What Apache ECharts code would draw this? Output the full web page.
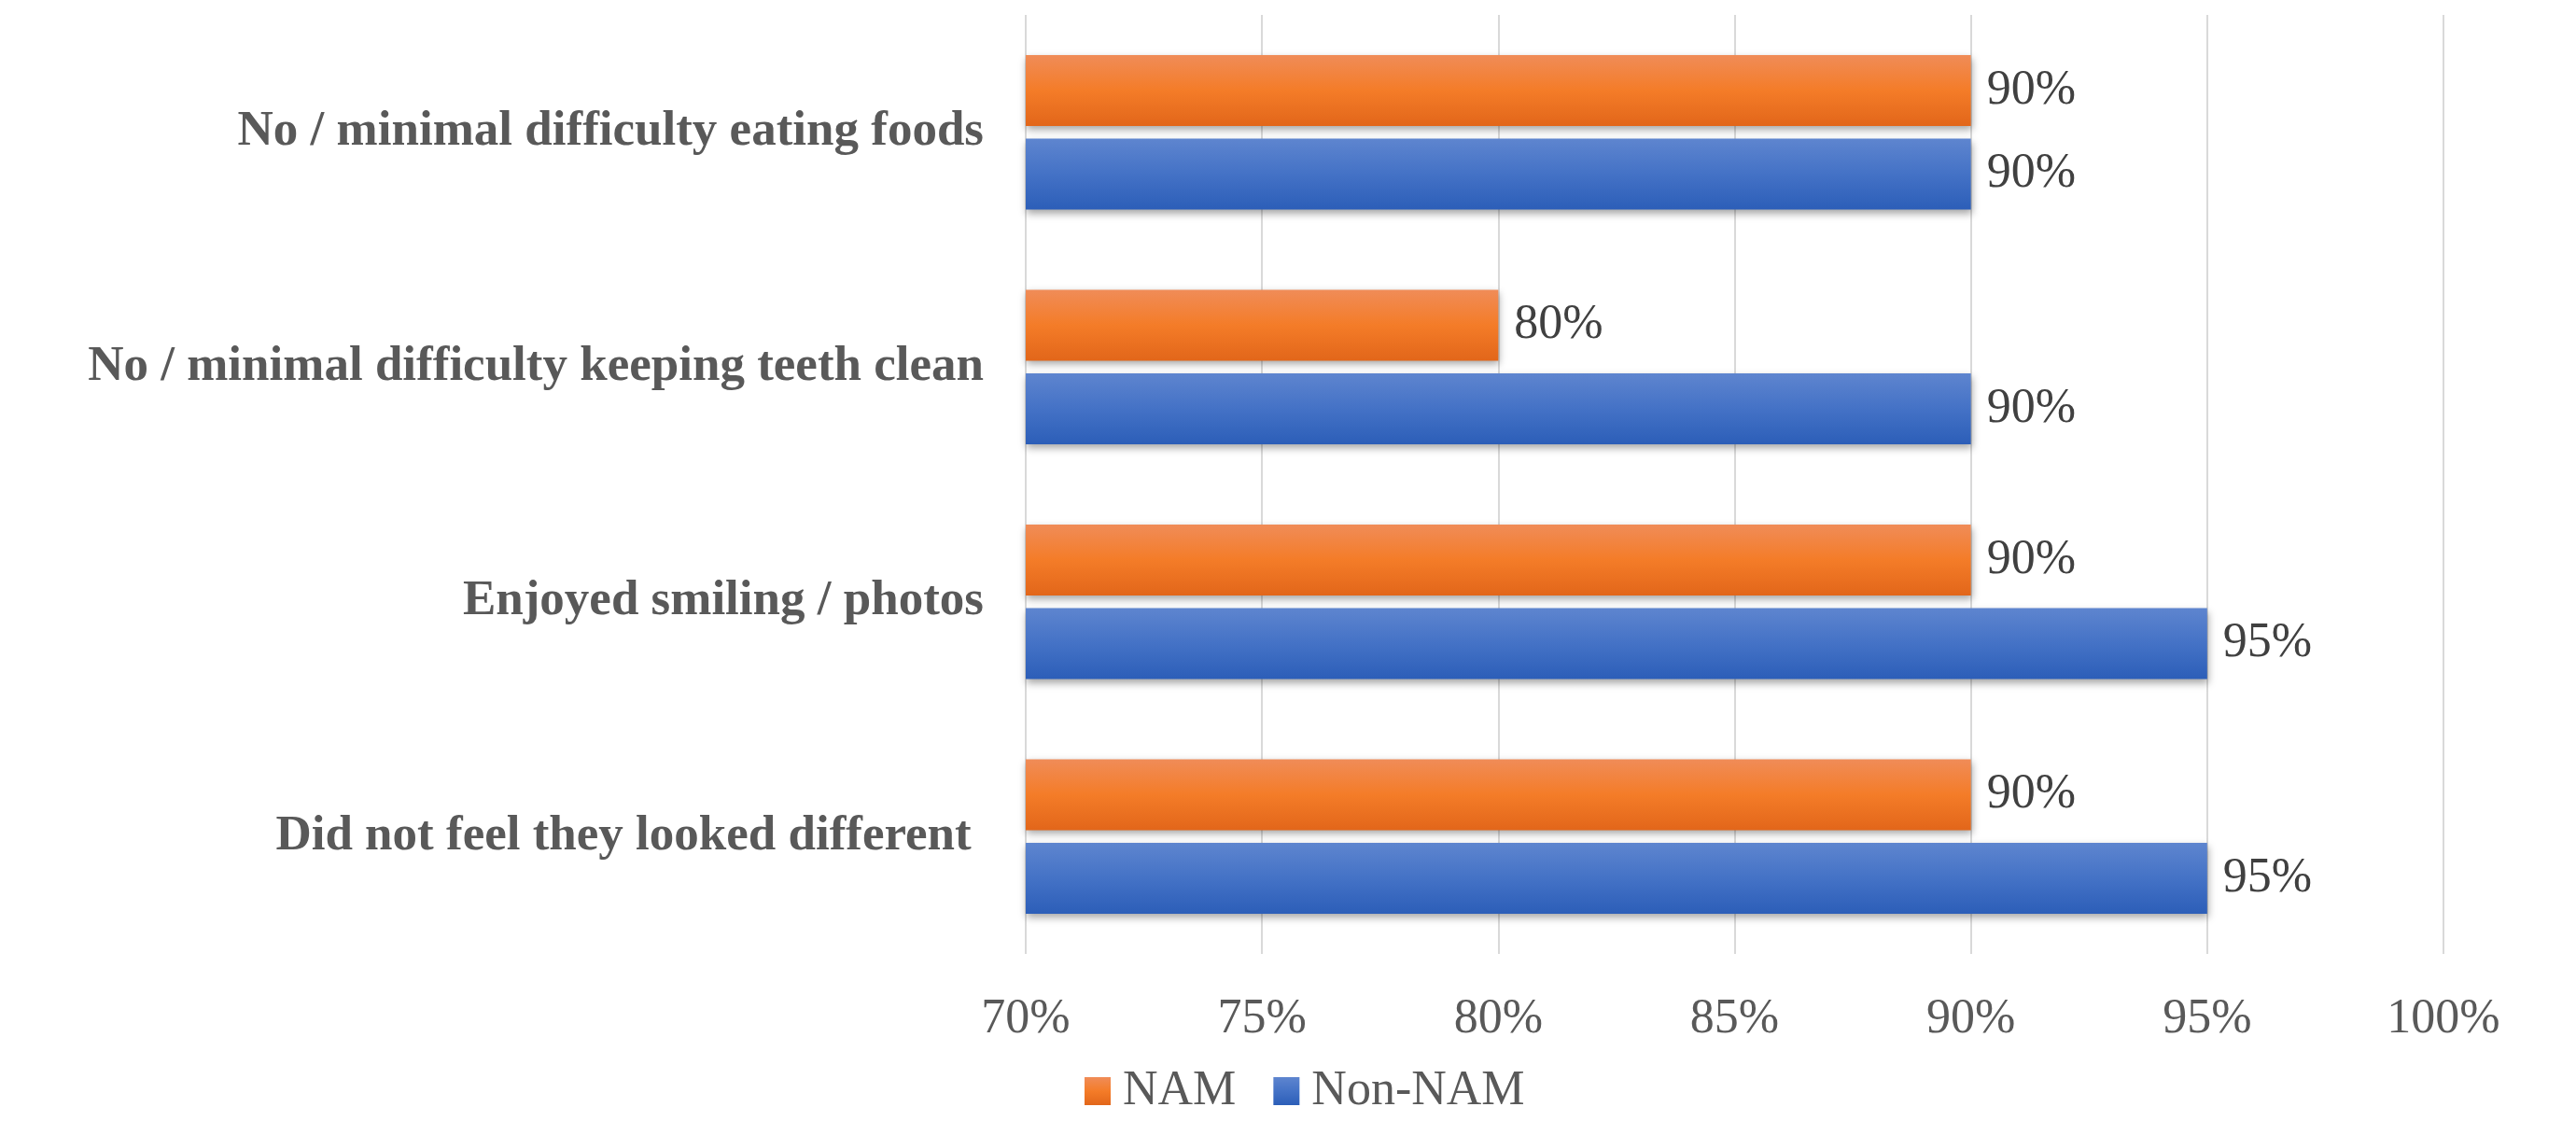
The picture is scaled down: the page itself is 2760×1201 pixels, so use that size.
<!DOCTYPE html>
<html>
<head>
<meta charset="utf-8">
<script src="https://cdn.jsdelivr.net/npm/echarts@6/dist/echarts.min.js"></script>
<style>
  html, body { margin: 0; padding: 0; background: #ffffff; }
  #chart { width: 2760px; height: 1201px; }
</style>
</head>
<body>
<div id="chart"></div>
<script>
const categories = [
  'No / minimal difficulty eating foods',
  'No / minimal difficulty keeping teeth clean',
  'Enjoyed smiling / photos',
  'Did not feel they looked different '
];
const namValues = [90, 80, 90, 90];
const nonNamValues = [90, 90, 95, 95];
const xTicks = { min: 70, max: 100, interval: 5 };

const font = 'Liberation Serif';

function grad(top, mid, bottom) {
  return new echarts.graphic.LinearGradient(0, 0, 0, 1, [
    { offset: 0, color: top },
    { offset: 0.5, color: mid },
    { offset: 1, color: bottom }
  ]);
}

const chart = echarts.init(document.getElementById('chart'));

const option = {
  animation: false,
  backgroundColor: '#ffffff',
  grid: { left: 1099, right: 142, top: 16, bottom: 179, containLabel: false },
  legend: {
    data: ['NAM', 'Non-NAM'],
    left: 1157,
    top: 1138,
    icon: 'rect',
    itemWidth: 28,
    itemHeight: 30,
    itemGap: 40,
    textStyle: { fontFamily: font, fontSize: 52, color: '#595959', padding: [0, 0, 0, 8] }
  },
  xAxis: {
    type: 'value',
    min: xTicks.min,
    max: xTicks.max,
    interval: xTicks.interval,
    axisLine: { show: false },
    axisTick: { show: false },
    splitLine: { show: true, lineStyle: { color: '#d9d9d9', width: 2 } },
    axisLabel: {
      formatter: '{value}%',
      fontFamily: font,
      fontSize: 52,
      color: '#595959',
      margin: 44
    }
  },
  yAxis: {
    type: 'category',
    data: categories,
    inverse: true,
    axisLine: { show: false },
    axisTick: { show: false },
    axisLabel: {
      fontFamily: font,
      fontSize: 53,
      fontWeight: 'bold',
      color: '#595959',
      margin: 45
    }
  },
  series: [
    {
      name: 'NAM',
      type: 'bar',
      data: namValues,
      barWidth: 76,
      barGap: '18%',
      itemStyle: {
        color: grad('#f08c58', '#f47c28', '#e2661a'),
        shadowColor: 'rgba(0,0,0,0.35)',
        shadowBlur: 8,
        shadowOffsetY: 4,
        shadowOffsetX: 1
      },
      label: {
        show: true,
        position: 'right',
        distance: 17,
        formatter: '{c}%',
        fontFamily: font,
        fontSize: 52,
        color: '#404040'
      }
    },
    {
      name: 'Non-NAM',
      type: 'bar',
      data: nonNamValues,
      barWidth: 76,
      barGap: '18%',
      itemStyle: {
        color: grad('#5e85cf', '#4472c6', '#2c5eb8'),
        shadowColor: 'rgba(0,0,0,0.35)',
        shadowBlur: 8,
        shadowOffsetY: 4,
        shadowOffsetX: 1
      },
      label: {
        show: true,
        position: 'right',
        distance: 17,
        formatter: '{c}%',
        fontFamily: font,
        fontSize: 52,
        color: '#404040'
      }
    }
  ]
};

chart.setOption(option);
</script>
</body>
</html>
